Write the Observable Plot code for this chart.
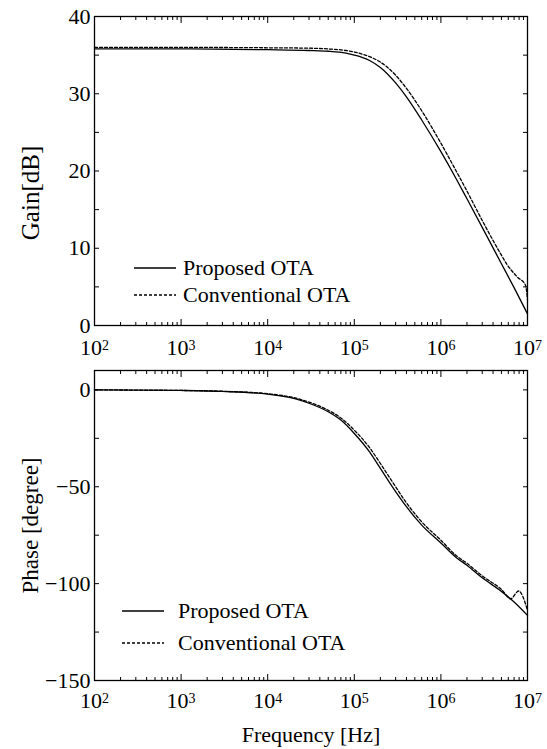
<!DOCTYPE html>
<html>
<head>
<meta charset="utf-8">
<script src="https://cdn.jsdelivr.net/npm/d3@7"></script>
<script src="https://cdn.jsdelivr.net/npm/@observablehq/plot@0.6"></script>
<style>
  html, body { margin: 0; padding: 0; background: #fff; }
  #wrap { position: relative; width: 547px; height: 749px; font-family: "Liberation Serif", "Times New Roman", serif; }
  #wrap > svg, #wrap > div { position: absolute; left: 0; }
</style>
</head>
<body>
<div id="wrap"></div>
<script>
// ---------- data ----------
const seriesNames = ["Proposed OTA", "Conventional OTA"];

const gainProposedFreq = [1e2, 1e3, 1e4, 3e4, 5e4, 8e4, 1e5, 1.5e5, 2e5, 3e5, 4e5, 6e5, 1e6, 1.5e6, 2e6, 3e6, 5e6, 7e6, 1e7];
const gainProposed     = [35.8, 35.8, 35.7, 35.6, 35.5, 35.25, 35.0, 34.3, 33.4, 31.4, 29.6, 26.6, 22.5, 19.0, 16.4, 12.7, 8.0, 4.9, 1.5];

const gainConvFreq = [1e2, 1e3, 1e4, 3e4, 5e4, 8e4, 1e5, 1.5e5, 2e5, 3e5, 4e5, 6e5, 1e6, 1.5e6, 2e6, 3e6, 5e6, 5.8e6, 7.6e6, 9.5e6, 1e7];
const gainConv     = [36.0, 36.0, 35.95, 35.9, 35.8, 35.6, 35.4, 34.8, 34.1, 32.4, 30.7, 27.8, 23.6, 20.0, 17.4, 13.6, 9.1, 7.9, 6.3, 5.2, 3.3];

const phaseProposedFreq = [1e2, 3e2, 1e3, 3e3, 1e4, 2e4, 3e4, 5e4, 7e4, 1e5, 1.5e5, 2e5, 3e5, 4e5, 6e5, 1e6, 1.5e6, 2e6, 3e6, 5e6, 7e6, 1e7];
const phaseProposed     = [0, -0.1, -0.3, -0.8, -2.2, -4.4, -6.9, -11.3, -15.6, -22.5, -32, -40.5, -52.5, -60.3, -69.8, -79, -86.5, -90.5, -97, -104, -109.5, -116.4];

const phaseConvFreq = [1e2, 3e2, 1e3, 3e3, 1e4, 2e4, 3e4, 5e4, 7e4, 1e5, 1.5e5, 2e5, 3e5, 4e5, 6e5, 1e6, 1.5e6, 2e6, 3e6, 5e6, 6.4e6, 7.9e6, 1e7];
const phaseConv     = [0, -0.1, -0.3, -0.7, -2.0, -4.0, -6.3, -10.5, -14.5, -20.8, -29.8, -38, -50, -58.3, -68.1, -77.6, -85.5, -89.5, -96, -103, -107.8, -103.8, -113.8];

// ---------- ticks ----------
const freqMajorTicks = [1e2, 1e3, 1e4, 1e5, 1e6, 1e7];
const freqExponents  = ["2", "3", "4", "5", "6", "7"];
const freqMinorMult  = [2, 3, 4, 5, 6, 7, 8, 9];
const gainTicks      = [0, 5, 10, 15, 20, 25, 30, 35, 40];
const gainLabelTicks = [0, 10, 20, 30, 40];
const phaseTicks      = [-150, -125, -100, -75, -50, -25, 0];
const phaseLabelTicks = [-150, -100, -50, 0];

(function () {
const freqMinorTicks = freqMajorTicks.slice(0, -1).flatMap(d => freqMinorMult.map(m => m * d));
const toRows = (fs, vs, s) => fs.map((f, i) => ({f, v: vs[i], s}));
const gainRows  = [toRows(gainProposedFreq, gainProposed, seriesNames[0]), toRows(gainConvFreq, gainConv, seriesNames[1])];
const phaseRows = [toRows(phaseProposedFreq, phaseProposed, seriesNames[0]), toRows(phaseConvFreq, phaseConv, seriesNames[1])];

const FONT = '"Liberation Serif", "Times New Roman", serif';
const expFormat = d => "10^" + freqExponents[freqMajorTicks.indexOf(d)];

function panel({rows, yDomain, yTicks, yLabelTicks, height, marginTop, marginBottom, xPad, yLabel, yLabelDy, yLabelSize, extra}) {
  const plot = Plot.plot({
    width: 547, height,
    marginLeft: 94, marginRight: 20, marginTop, marginBottom,
    style: {fontFamily: FONT, fontSize: "22px", color: "#000", background: "transparent", overflow: "visible"},
    x: {type: "log", domain: [1e2, 1e7]},
    y: {domain: yDomain},
    marks: [
      Plot.axisX(freqMajorTicks, {anchor: "bottom", tickSize: 6, dy: -6, tickFormat: () => "", label: null, strokeWidth: 1}),
      Plot.axisX(freqMinorTicks, {anchor: "bottom", tickSize: 3, dy: -3, tickFormat: () => "", label: null, strokeWidth: 1}),
      Plot.axisX(freqMajorTicks, {anchor: "top", tickSize: 6, dy: 6, tickFormat: () => "", label: null, strokeWidth: 1}),
      Plot.axisX(freqMinorTicks, {anchor: "top", tickSize: 3, dy: 3, tickFormat: () => "", label: null, strokeWidth: 1}),
      Plot.axisY(yTicks, {anchor: "left", tickSize: 5, dx: 5, tickFormat: () => "", label: null, strokeWidth: 1}),
      Plot.axisY(yTicks, {anchor: "right", tickSize: 5, dx: -5, tickFormat: () => "", label: null, strokeWidth: 1}),
      Plot.axisX(freqMajorTicks, {anchor: "bottom", tickSize: 0, tickPadding: xPad, tickFormat: expFormat, label: null, fontSize: 22}),
      Plot.axisY(yLabelTicks, {anchor: "left", tickSize: 0, tickPadding: 4, label: null, fontSize: 22}),
      Plot.frame({stroke: "#000", strokeWidth: 1.3}),
      Plot.line(rows[0], {x: "f", y: "v", stroke: "#000", strokeWidth: 1.3, curve: "monotone-x"}),
      Plot.line(rows[1], {x: "f", y: "v", stroke: "#000", strokeWidth: 1.3, strokeDasharray: "3,2", curve: "monotone-x"}),
      Plot.text([yLabel], {frameAnchor: "left", dx: -73, dy: yLabelDy, rotate: -90, fontSize: yLabelSize, textAnchor: "middle", lineAnchor: "top", fill: "#000"}),
      ...(extra || [])
    ]
  });
  plot.querySelectorAll('g[aria-label="x-axis tick label"] text').forEach(t => {
    const s = t.textContent;
    if (!s.includes("^")) return;
    const [b, e] = s.split("^");
    t.textContent = b;
    const ts = document.createElementNS("http://www.w3.org/2000/svg", "tspan");
    ts.setAttribute("dy", "-0.36em");
    ts.setAttribute("font-size", "14");
    ts.textContent = e;
    t.appendChild(ts);
  });
  return plot;
}

const wrap = document.getElementById("wrap");

const topPlot = panel({
  rows: gainRows, yDomain: [0, 40], yTicks: gainTicks, yLabelTicks: gainLabelTicks,
  height: 360, marginTop: 16, marginBottom: 35, xPad: 14, yLabel: "Gain[dB]", yLabelDy: 22, yLabelSize: 25
});
topPlot.style.top = "0px";
wrap.appendChild(topPlot);

const bottomPlot = panel({
  rows: phaseRows, yDomain: [-150, 10], yTicks: phaseTicks, yLabelTicks: phaseLabelTicks,
  height: 389, marginTop: 10, marginBottom: 69, xPad: 11.5, yLabel: "Phase [degree]", yLabelDy: 0, yLabelSize: 23,
  extra: [Plot.text(["Frequency [Hz]"], {frameAnchor: "bottom", dy: 61, fontSize: 22, fill: "#000", lineAnchor: "bottom"})]
});
bottomPlot.style.top = "360px";
wrap.appendChild(bottomPlot);

function legend(x1, x2, tx, y1, y2) {
  const ns = "http://www.w3.org/2000/svg";
  const svg = document.createElementNS(ns, "svg");
  svg.setAttribute("width", 547); svg.setAttribute("height", 749);
  svg.style.position = "absolute"; svg.style.left = "0px"; svg.style.top = "0px";
  svg.style.pointerEvents = "none";
  [[y1, null, seriesNames[0]], [y2, "3,2", seriesNames[1]]].forEach(([y, dash, name]) => {
    const l = document.createElementNS(ns, "line");
    l.setAttribute("x1", x1); l.setAttribute("x2", x2); l.setAttribute("y1", y); l.setAttribute("y2", y);
    l.setAttribute("stroke", "#000"); l.setAttribute("stroke-width", 1.3);
    if (dash) l.setAttribute("stroke-dasharray", dash);
    svg.appendChild(l);
    const t = document.createElementNS(ns, "text");
    t.setAttribute("x", tx); t.setAttribute("y", y); t.setAttribute("dy", "0.33em");
    t.setAttribute("font-family", FONT); t.setAttribute("font-size", 22); t.setAttribute("fill", "#000");
    t.textContent = name;
    svg.appendChild(t);
  });
  wrap.appendChild(svg);
}
legend(134, 176, 183, 268, 295);
legend(122, 164, 178, 611, 643);
})();
</script>
</body>
</html>
